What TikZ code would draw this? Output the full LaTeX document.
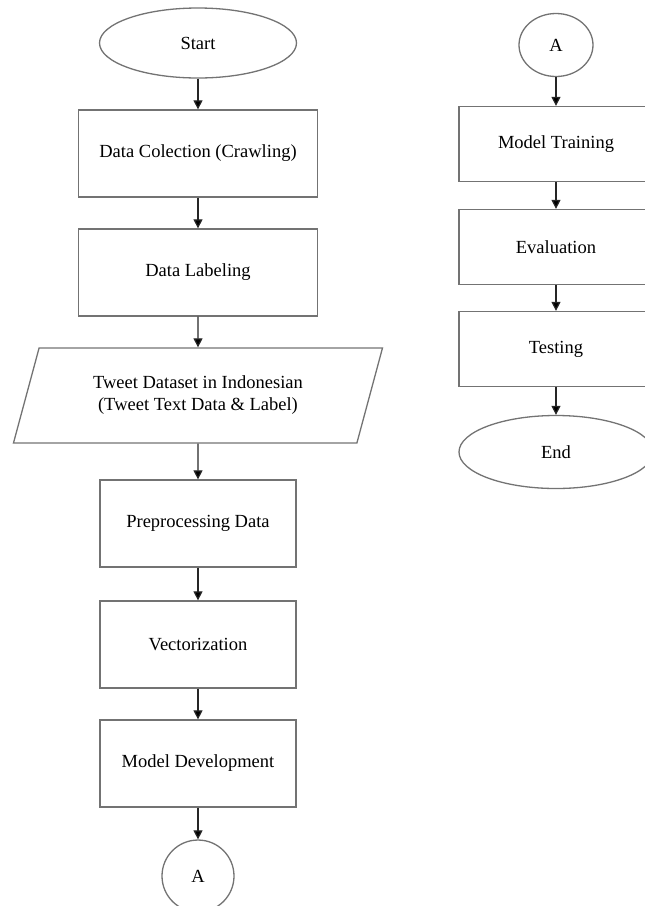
\documentclass[tikz,border=0pt]{standalone}
\usepackage{fontspec}
\setmainfont{Liberation Serif}
\usetikzlibrary{positioning,shapes.geometric,arrows.meta}

\begin{document}
\begin{tikzpicture}[x=1pt,y=1pt,>={Triangle[length=9pt,width=9pt]},node distance=30.7pt,
                every node/.style={font=\fontsize{18.5}{22}\selectfont},
                outline/.style={draw=black!55,line width=1.3pt},
                process/.style={rectangle,outline,minimum width=196pt,minimum height=87pt},
                wide process/.style={process,minimum width=239pt},
                short process/.style={process,minimum width=194pt,minimum height=75pt},
                terminal/.style={ellipse,outline,minimum width=197pt,minimum height=70pt},
                data/.style={trapezium,trapezium left angle=69,trapezium right angle=111,
                  trapezium stretches=true,outline,minimum width=370pt,minimum height=95pt,align=center},
                connector/.style={circle,outline,minimum size=72pt},
                flow/.style={->,draw=black!85,line width=1.2pt}]
                \useasboundingbox (0,0) rectangle (645,-906);

                % left column
                \node[terminal] (start) at (198,-43) {Start};
                \node[wide process] (collect) [below=of start] {Data Colection (Crawling)};
                \node[wide process] (label) [below=of collect] {Data Labeling};
                \node[data] (dataset) [below=of label] {Tweet Dataset in Indonesian\\(Tweet Text Data \& Label)};
                \node[process] (prep) [below=35.7pt of dataset] {Preprocessing Data};
                \node[process] (vector) [below=32.7pt of prep] {Vectorization};
                \node[process] (develop) [below=of vector] {Model Development};
                \node[connector] (a1) [below=31.7pt of develop] {A};

                % right column
                \node[ellipse,outline,minimum width=74pt,minimum height=63pt] (a2) at (556,-45) {A};
                \node[short process] (train) [below=28.7pt of a2] {Model Training};
                \node[short process] (eval) [below=26.7pt of train] {Evaluation};
                \node[short process] (test) [below=25.7pt of eval] {Testing};
                \node[terminal,minimum width=194pt,minimum height=73pt] (end) [below=27.7pt of test] {End};

                \path[flow]
                (start) edge (collect)
                (collect) edge (label)
                (label) edge (dataset)
                (dataset) edge (prep)
                (prep) edge (vector)
                (vector) edge (develop)
                (develop) edge (a1)
                (a2) edge (train)
                (train) edge (eval)
                (eval) edge (test)
                (test) edge (end)
                ;
\end{tikzpicture}
\end{document}
